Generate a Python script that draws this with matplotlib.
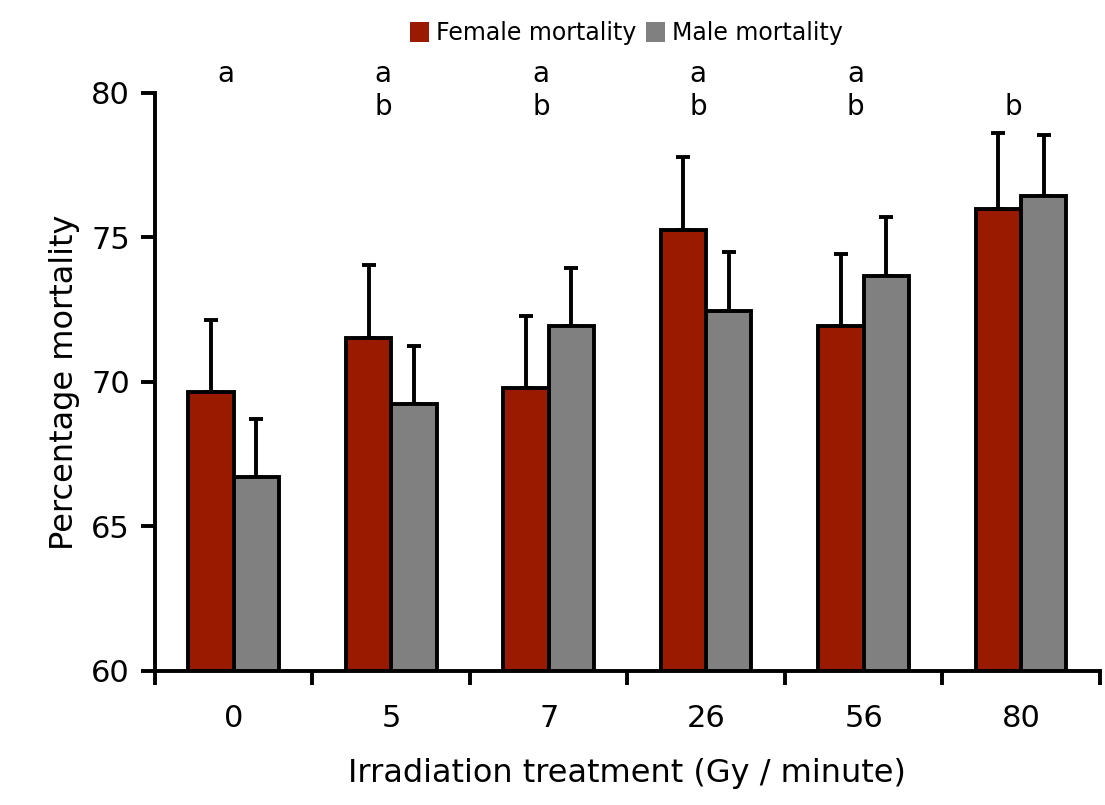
import matplotlib
matplotlib.use("Agg")
import matplotlib.pyplot as plt
import numpy as np
from matplotlib.patches import Patch

categories = ["0", "5", "7", "26", "56", "80"]
female = [69.65, 71.52, 69.8, 75.26, 71.94, 75.99]
female_err = [2.5, 2.53, 2.48, 2.53, 2.49, 2.61]
male = [66.71, 69.24, 71.94, 72.46, 73.67, 76.44]
male_err = [2.01, 2.01, 2.0, 2.04, 2.04, 2.11]
letters_top = ["a", "a", "a", "a", "a", ""]
letters_bottom = ["", "b", "b", "b", "b", "b"]

plt.rcParams['font.family'] = ['DejaVu Sans']

fig = plt.figure(figsize=(11.05, 8.05), dpi=100)
ax = fig.add_axes([0.1403, 0.1665, 0.855, 0.718])

x = np.arange(len(categories)) + 0.5
w = 0.288
red = '#9a1a00'
grey = '#808080'
lw = 2.8

ax.bar(x - w / 2, female, w, color=red, edgecolor='black', linewidth=lw, zorder=2)
ax.bar(x + w / 2, male, w, color=grey, edgecolor='black', linewidth=lw, zorder=2)
ax.errorbar(x - w / 2, female, yerr=[np.zeros(6), female_err], fmt='none', ecolor='black',
            elinewidth=lw, capsize=5, capthick=lw, zorder=1)
ax.errorbar(x + w / 2, male, yerr=[np.zeros(6), male_err], fmt='none', ecolor='black',
            elinewidth=lw, capsize=5, capthick=lw, zorder=1)

for i in range(len(categories)):
    ax.text(x[i] - 0.05, 80.65, letters_top[i], ha='center', va='center', fontsize=20, clip_on=False)
    ax.text(x[i] - 0.05, 79.5, letters_bottom[i], ha='center', va='center', fontsize=20, clip_on=False)

ax.set_xlim(0, 6)
ax.set_ylim(60, 80)
ax.set_yticks([60, 65, 70, 75, 80])
ax.set_xticks(np.arange(0, 7))
ax.set_xticklabels([])
ax.set_xticks(x, minor=True)
ax.set_xticklabels(categories, minor=True)
ax.tick_params(axis='x', which='minor', length=0, labelsize=22, pad=24)
ax.tick_params(axis='x', which='major', length=10, width=lw, direction='out')
ax.tick_params(axis='y', length=10, width=lw, direction='out', labelsize=22, pad=8)

for s in ['top', 'right']:
    ax.spines[s].set_visible(False)
for s in ['left', 'bottom']:
    ax.spines[s].set_linewidth(lw)

ax.set_ylabel('Percentage mortality', fontsize=23, labelpad=8)
ax.set_xlabel('Irradiation treatment (Gy / minute)', fontsize=23, labelpad=18)

handles = [Patch(facecolor=red, edgecolor='none', label='Female mortality'),
           Patch(facecolor=grey, edgecolor='none', label='Male mortality')]
fig.legend(handles=handles, loc='upper center', bbox_to_anchor=(0.567, 1.0), ncol=2,
           frameon=False, fontsize=17, handlelength=0.8, handleheight=0.9,
           handletextpad=0.3, columnspacing=0.4)

fig.savefig('out.png', dpi=100)
